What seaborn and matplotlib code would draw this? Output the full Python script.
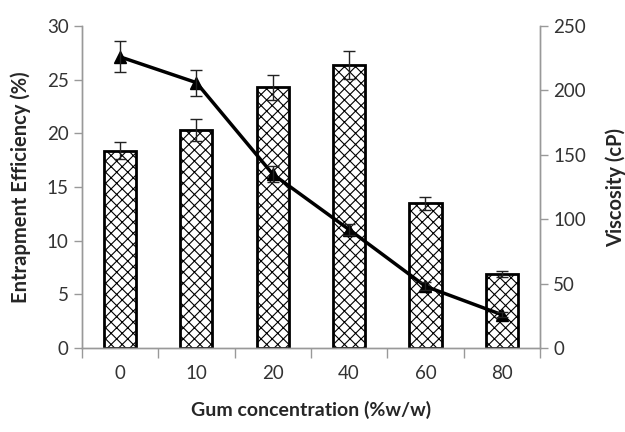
import numpy as np
import pandas as pd
import matplotlib
matplotlib.use("Agg")
import matplotlib.pyplot as plt
import seaborn as sns

categories = ["0", "10", "20", "40", "60", "80"]
efficiency = [18.4, 20.3, 24.3, 26.4, 13.5, 6.9]
efficiency_err = [0.8, 1.0, 1.15, 1.3, 0.6, 0.3]
viscosity = [226, 206, 135, 92, 48, 26]
viscosity_err = [12, 10, 6, 4, 3, 2]

sns.set_theme(style="white")
plt.rcParams['font.family'] = ['Lato', 'DejaVu Sans']
plt.rcParams['hatch.linewidth'] = 0.8

df = pd.DataFrame({"conc": categories, "eff": efficiency})

fig = plt.figure(figsize=(6.25, 4.32), dpi=100)
ax = fig.add_axes([0.131, 0.194, 0.733, 0.746])

sns.barplot(data=df, x="conc", y="eff", ax=ax, color="white", edgecolor="black",
            linewidth=2, width=0.42, hatch="xxx")
pos = np.arange(len(categories))
ax.errorbar(pos, efficiency, yerr=efficiency_err, fmt="none", ecolor="#222222",
            elinewidth=1, capsize=4, capthick=1)
ax.set_ylim(0, 30)
ax.set_xlim(-0.5, len(categories) - 0.5)
ax.set_yticks(np.arange(0, 31, 5))
ax.set_ylabel("Entrapment Efficiency (%)", fontsize=14.5, fontweight="bold", labelpad=11)
ax.set_xlabel("Gum concentration (%w/w)", fontsize=14, fontweight="bold", labelpad=14)

ax2 = ax.twinx()
ax2.plot(pos, viscosity, color="black", linewidth=2.5, marker="^", markersize=9)
ax2.errorbar(pos, viscosity, yerr=viscosity_err, fmt="none", ecolor="#222222",
             elinewidth=1, capsize=4, capthick=1)
ax2.set_ylim(0, 250)
ax2.set_yticks(np.arange(0, 251, 50))
ax2.set_ylabel("Viscosity (cP)", fontsize=14.5, fontweight="bold", labelpad=14)

for a in (ax, ax2):
    a.spines["top"].set_visible(False)
    for s in ("left", "right", "bottom"):
        a.spines[s].set_color("#999999")
        a.spines[s].set_linewidth(1)
    a.tick_params(axis="y", labelsize=13.5, colors="#333333", length=6, width=1, color="#999999")
ax.tick_params(axis="y", direction="out", left=True)
ax2.tick_params(axis="y", direction="out", right=True)

ax.set_xticks(pos)
ax.set_xticklabels(categories)
ax.tick_params(axis="x", which="major", length=0, labelsize=13.5, labelcolor="#333333", pad=12)
ax.set_xticks(np.arange(-0.5, len(categories), 1), minor=True)
ax.tick_params(axis="x", which="minor", bottom=True, length=7, width=1, color="#999999", direction="out")

fig.savefig("out.png", dpi=100)
